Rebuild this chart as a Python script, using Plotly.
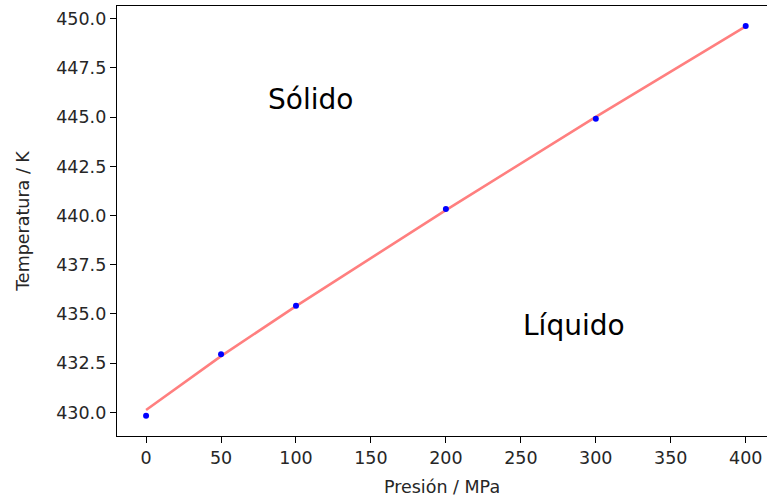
import plotly.graph_objects as go

# Data
pressure = [0, 50, 100, 200, 300, 400]            # MPa
temperature = [429.83, 432.95, 435.42, 440.34, 444.92, 449.64]  # K
fit_pressure = [0, 50, 100, 200, 300, 400]
fit_temperature = [430.12, 432.86, 435.40, 440.28, 445.02, 449.62]

xticks = [0, 50, 100, 150, 200, 250, 300, 350, 400]
yticks = [430.0, 432.5, 435.0, 437.5, 440.0, 442.5, 445.0, 447.5, 450.0]

FONT = "DejaVu Sans"
TXT = "#262626"

fig = go.Figure()
fig.add_trace(go.Scatter(
    x=fit_pressure, y=fit_temperature, mode="lines",
    line=dict(color="rgba(255,0,0,0.5)", width=2.6),
    hoverinfo="skip", showlegend=False))
fig.add_trace(go.Scatter(
    x=pressure, y=temperature, mode="markers",
    marker=dict(color="#0000ff", size=6, line=dict(width=0)),
    showlegend=False))

fig.add_annotation(x=80, y=445.91, xref="x", yref="y", text="Sólido",
                   showarrow=False, xanchor="left", yanchor="middle",
                   font=dict(family=FONT, size=28, color="#000"))
fig.add_annotation(x=250, y=434.44, xref="x", yref="y", text="Líquido",
                   showarrow=False, xanchor="left", yanchor="middle",
                   font=dict(family=FONT, size=28, color="#000"))

fig.update_layout(
    width=767, height=502,
    margin=dict(l=117, r=0, t=6, b=66),
    paper_bgcolor="white", plot_bgcolor="white",
    font=dict(family=FONT, size=17.5, color=TXT),
    xaxis=dict(
        range=[-19.4, 414.2], tickvals=xticks,
        ticktext=[str(v) for v in xticks],
        showgrid=False, zeroline=False,
        showline=True, linecolor="#000", linewidth=1.4, mirror=True,
        ticks="outside", ticklen=6, tickwidth=1.4, tickcolor="#000",
        tickfont=dict(family=FONT, size=17.5, color=TXT),
        title=dict(text="Presión / MPa", standoff=13,
                   font=dict(family=FONT, size=17.5, color=TXT)),
    ),
    yaxis=dict(
        range=[428.8, 450.65], tickvals=yticks,
        ticktext=[f"{v:.1f}" for v in yticks],
        showgrid=False, zeroline=False,
        showline=True, linecolor="#000", linewidth=1.4, mirror=False,
        ticks="outside", ticklen=6, tickwidth=1.4, tickcolor="#000",
        tickfont=dict(family=FONT, size=17.5, color=TXT),
        title=dict(text="Temperatura / K", standoff=22,
                   font=dict(family=FONT, size=17.5, color=TXT)),
    ),
)

fig.write_html(
    "out.html",
    config={"displayModeBar": False},
    post_script="document.body.style.margin='0';document.body.style.overflow='hidden';",
)
